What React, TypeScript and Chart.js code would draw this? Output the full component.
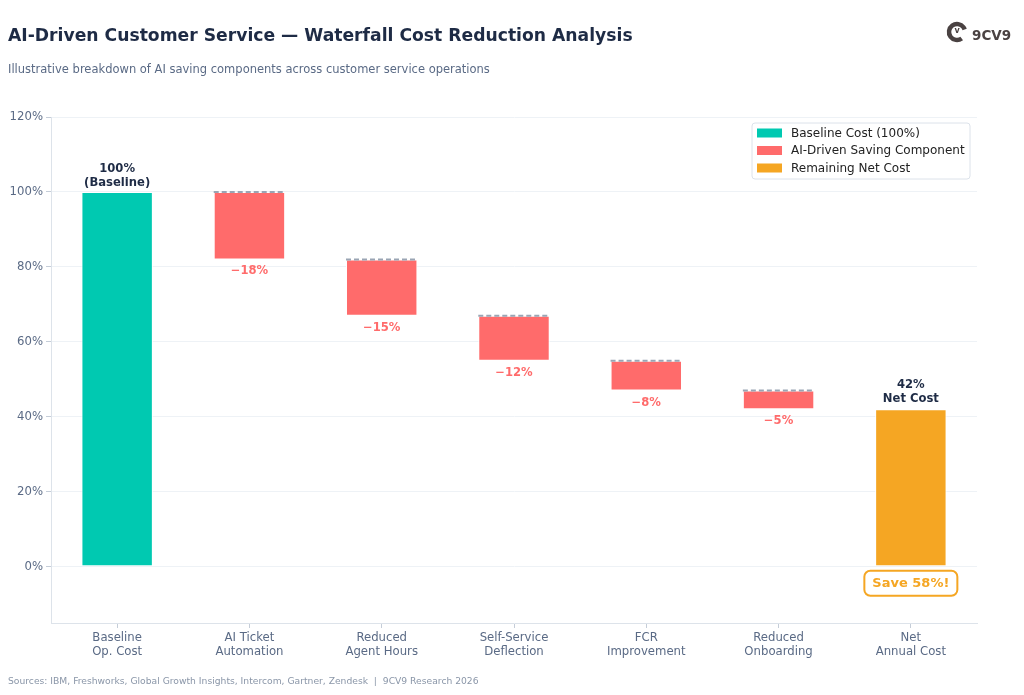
import React, { useEffect, useRef } from "react";
import { Chart, registerables } from "chart.js";

Chart.register(...registerables);

// Waterfall inputs (percent of baseline operating cost)
const categories: string[][] = [
  ["Baseline", "Op. Cost"],
  ["AI Ticket", "Automation"],
  ["Reduced", "Agent Hours"],
  ["Self-Service", "Deflection"],
  ["FCR", "Improvement"],
  ["Reduced", "Onboarding"],
  ["Net", "Annual Cost"],
];
const baselineValue = 100;
const savingValues = [18, 15, 12, 8, 5];
const netValue = 42;
const yTicks = [0, 20, 40, 60, 80, 100, 120];

const TEAL = "#00C9B1";
const CORAL = "#FF6B6B";
const AMBER = "#F5A623";
const NAVY = "#1E2B45";
const SLATE = "#5A6A85";
const FONT = "'DejaVu Sans', sans-serif";

// Floating [start, end] ranges for every bar of the waterfall
function buildRanges(): [number, number][] {
  const out: [number, number][] = [[0, baselineValue]];
  let level = baselineValue;
  for (const s of savingValues) {
    out.push([level - s, level]);
    level -= s;
  }
  out.push([0, netValue]);
  return out;
}

const overlayPlugin = {
  id: "waterfallOverlay",
  afterDatasetsDraw(chart: any) {
    const ctx: CanvasRenderingContext2D = chart.ctx;
    const x = chart.scales.x;
    const y = chart.scales.y;
    const meta = chart.getDatasetMeta(0);
    const ranges = buildRanges();
    ctx.save();

    // dashed connectors on top of each saving bar
    ctx.strokeStyle = "#9AA5B4";
    ctx.lineWidth = 2;
    ctx.setLineDash([5, 3]);
    for (let i = 1; i <= savingValues.length; i++) {
      const bar = meta.data[i];
      const half = bar.width / 2;
      const py = y.getPixelForValue(ranges[i][1]);
      ctx.beginPath();
      ctx.moveTo(bar.x - half, py);
      ctx.lineTo(bar.x + half, py);
      ctx.stroke();
    }
    ctx.setLineDash([]);

    // value labels
    ctx.textAlign = "center";
    ctx.textBaseline = "middle";
    ctx.font = `bold 11.6px ${FONT}`;
    ctx.fillStyle = NAVY;
    const bx = x.getPixelForValue(0);
    const by = y.getPixelForValue(baselineValue);
    ctx.fillText(`${baselineValue}%`, bx, by - 23);
    ctx.fillText("(Baseline)", bx, by - 9);

    ctx.fillStyle = CORAL;
    for (let i = 1; i <= savingValues.length; i++) {
      const cx = x.getPixelForValue(i);
      const py = y.getPixelForValue(ranges[i][0]);
      ctx.fillText(`\u2212${savingValues[i - 1]}%`, cx, py + 12);
    }

    const last = categories.length - 1;
    const nx = x.getPixelForValue(last);
    const ny = y.getPixelForValue(netValue);
    ctx.fillStyle = NAVY;
    ctx.fillText(`${netValue}%`, nx, ny - 24);
    ctx.fillText("Net Cost", nx, ny - 10);

    // savings callout under the net bar
    const saveText = `Save ${baselineValue - netValue}%!`;
    ctx.font = `bold 13px ${FONT}`;
    const tw = ctx.measureText(saveText).width;
    const boxW = tw + 16;
    const boxH = 25;
    const boxY = y.getPixelForValue(0) + 4;
    ctx.beginPath();
    ctx.roundRect(nx - boxW / 2, boxY, boxW, boxH, 6);
    ctx.fillStyle = "#FFFFFF";
    ctx.fill();
    ctx.strokeStyle = AMBER;
    ctx.lineWidth = 2;
    ctx.stroke();
    ctx.fillStyle = AMBER;
    ctx.fillText(saveText, nx, boxY + boxH / 2 + 0.5);

    // legend
    const lx = 752, ly = 123, lw = 218, lh = 56;
    ctx.beginPath();
    ctx.roundRect(lx, ly, lw, lh, 3);
    ctx.fillStyle = "rgba(255,255,255,0.9)";
    ctx.fill();
    ctx.strokeStyle = "#DCE2EA";
    ctx.lineWidth = 1;
    ctx.stroke();
    const entries: [string, string][] = [
      [TEAL, "Baseline Cost (100%)"],
      [CORAL, "AI-Driven Saving Component"],
      [AMBER, "Remaining Net Cost"],
    ];
    ctx.font = `12px ${FONT}`;
    ctx.textAlign = "left";
    entries.forEach(([c, t], k) => {
      const cy = ly + 10 + k * 17.5;
      ctx.fillStyle = c;
      ctx.fillRect(lx + 5, cy - 4.5, 25, 9);
      ctx.fillStyle = "#222222";
      ctx.fillText(t, lx + 39, cy + 0.5);
    });

    ctx.restore();
  },
  beforeDraw(chart: any) {
    const ctx: CanvasRenderingContext2D = chart.ctx;
    ctx.save();
    ctx.fillStyle = "#FFFFFF";
    ctx.fillRect(0, 0, chart.width, chart.height);

    ctx.textAlign = "left";
    ctx.textBaseline = "middle";
    ctx.fillStyle = NAVY;
    ctx.font = `bold 17.2px ${FONT}`;
    ctx.fillText("AI-Driven Customer Service \u2014 Waterfall Cost Reduction Analysis", 8, 37);
    ctx.fillStyle = SLATE;
    ctx.font = `11.5px ${FONT}`;
    ctx.fillText("Illustrative breakdown of AI saving components across customer service operations", 8, 70);
    ctx.fillStyle = "#8A96A8";
    ctx.font = `9.2px ${FONT}`;
    ctx.fillText(
      "Sources: IBM, Freshworks, Global Growth Insights, Intercom, Gartner, Zendesk  |  9CV9 Research 2026",
      8,
      682
    );

    // brand mark
    const gx = 957, gy = 32;
    ctx.strokeStyle = "#4A4242";
    ctx.lineWidth = 4.5;
    ctx.beginPath();
    ctx.arc(gx, gy, 8, Math.PI * 0.3, Math.PI * 1.9);
    ctx.stroke();
    ctx.fillStyle = "#4A4242";
    ctx.font = `bold 8px ${FONT}`;
    ctx.textAlign = "center";
    ctx.fillText("v", gx, gy - 1);
    ctx.textAlign = "left";
    ctx.font = `bold 13.5px ${FONT}`;
    ctx.fillText("9CV9", 972, gy + 4);
    ctx.restore();
  },
};

export default function App() {
  const ref = useRef<HTMLCanvasElement | null>(null);

  useEffect(() => {
    document.body.style.margin = "0";
    const ranges = buildRanges();
    const colors = categories.map((_, i) =>
      i === 0 ? TEAL : i === categories.length - 1 ? AMBER : CORAL
    );
    const chart = new Chart(ref.current as HTMLCanvasElement, {
      type: "bar",
      data: {
        labels: categories,
        datasets: [
          {
            data: ranges as any,
            backgroundColor: colors,
            borderColor: "#FFFFFF",
            borderWidth: 1,
            borderSkipped: false,
            barPercentage: 0.54,
            categoryPercentage: 1,
          },
        ],
      },
      options: {
        animation: false,
        responsive: false,
        layout: { padding: { top: 117, right: 47, left: 0, bottom: 0 } },
        plugins: {
          legend: { display: false },
          tooltip: { enabled: false },
          title: { display: false },
        },
        scales: {
          x: {
            grid: {
              offset: false,
              drawOnChartArea: false,
              drawTicks: true,
              tickLength: 5,
              tickColor: "#C5CDD8",
            },
            border: { color: "#DDE3EA" },
            ticks: {
              color: SLATE,
              font: { family: FONT, size: 11.7 },
              padding: 3,
              maxRotation: 0,
            },
            afterFit(scale: any) {
              scale.height = 695 - 623;
            },
          },
          y: {
            min: -15,
            max: 120,
            grid: {
              color: "#EEF2F6",
              drawTicks: true,
              tickLength: 5,
              tickColor: "#C5CDD8",
            },
            border: { color: "#DDE3EA" },
            ticks: {
              color: SLATE,
              font: { family: FONT, size: 11.7 },
              padding: 3,
              callback: (v: any) => `${v}%`,
            },
            afterBuildTicks(scale: any) {
              scale.ticks = yTicks.map((v) => ({ value: v }));
            },
            afterFit(scale: any) {
              scale.width = 51;
            },
          },
        },
      },
      plugins: [overlayPlugin],
    });
    return () => chart.destroy();
  }, []);

  return <canvas ref={ref} width={1024} height={695} style={{ display: "block" }} />;
}
